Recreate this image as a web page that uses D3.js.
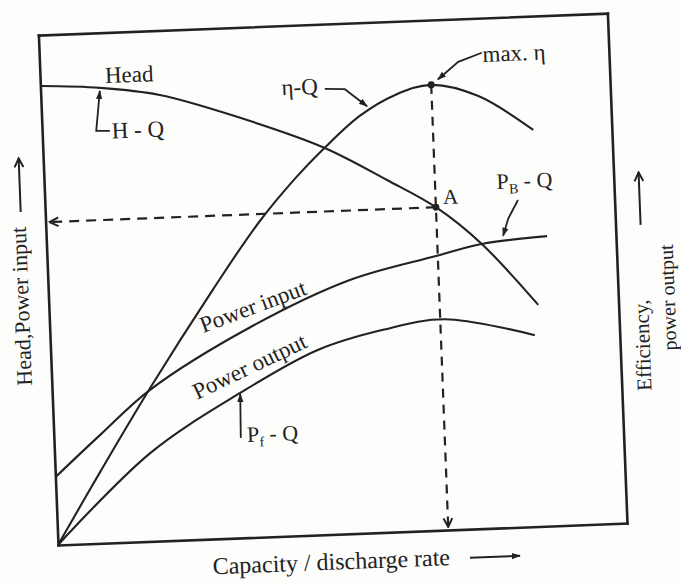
<!DOCTYPE html>
<html>
<head>
<meta charset="utf-8">
<script src="https://cdn.jsdelivr.net/npm/d3@7"></script>
<style>
  body { margin: 0; background: #fdfdfb; }
  svg { display: block; }
  text { font-family: "Liberation Serif", "DejaVu Serif", serif; fill: #222; }
</style>
</head>
<body>
<svg id="chart" width="681" height="583"></svg>
<script>
// ---- data (arbitrary units, 0..100 on both axes) ----
const headQ   = [0, 10.45, 20.9, 34.3, 49.2, 60.2, 68.6, 76.4, 85.9];
const headVal = [90.0, 89.2, 87.35, 82.5, 75.9, 69.0, 63.3, 55.75, 43.4];

const etaQ    = [0, 7.9, 17.2, 29.0, 37.3, 44.1, 49.2, 55.9, 62.2, 68.6, 76.7, 86.2];
const etaVal  = [0, 14.0, 30.0, 49.0, 61.5, 70.0, 75.5, 81.8, 85.6, 87.3, 84.8, 77.7];

const pinQ    = [0, 8.1, 17.2, 35.2, 53.0, 68.3, 76.4, 87.9];
const pinVal  = [13.3, 21.2, 29.7, 41.2, 49.7, 53.75, 55.75, 56.8];

const poutQ   = [0, 16.8, 33.0, 46.8, 58.5, 69.4, 85.1];
const poutVal = [0, 17.3, 28.4, 36.2, 39.7, 41.3, 37.5];

const bestQ = 68.6;      // discharge at max efficiency
const bestHead = 63.3;   // head at point A
const maxEta = 87.3;     // peak of eta-Q

const xTitle = "Capacity / discharge rate";
const yTitle = "Head,Power input";
const y2Title1 = "Efficiency,";
const y2Title2 = "power output";

// ---- drawing ----
const svg = d3.select("#chart");
const W = 569.4, H = 510.3, tilt = -2.2;
const x = d3.scaleLinear().domain([0, 100]).range([0, W]);
const y = d3.scaleLinear().domain([0, 100]).range([H, 0]);
const ink = "#222";

const defs = svg.append("defs");
defs.append("marker").attr("id", "tri")
  .attr("viewBox", "0 0 10 10").attr("refX", 9).attr("refY", 5)
  .attr("markerWidth", 9).attr("markerHeight", 9)
  .attr("markerUnits", "userSpaceOnUse").attr("orient", "auto")
  .append("path").attr("d", "M0,1.5L10,5L0,8.5Z").attr("fill", ink);
defs.append("marker").attr("id", "chev")
  .attr("viewBox", "0 0 10 10").attr("refX", 9).attr("refY", 5)
  .attr("markerWidth", 11).attr("markerHeight", 11)
  .attr("markerUnits", "userSpaceOnUse").attr("orient", "auto")
  .append("path").attr("d", "M1,1L9,5L1,9").attr("fill", "none")
  .attr("stroke", ink).attr("stroke-width", 1.8);

const g = svg.append("g")
  .attr("transform", `translate(58,545) rotate(${tilt}) translate(0,${-H})`);

// frame via axes without ticks
g.append("g").attr("transform", `translate(0,${H})`).call(d3.axisBottom(x).tickValues([]).tickSizeOuter(0));
g.append("g").call(d3.axisLeft(y).tickValues([]).tickSizeOuter(0));
g.append("g").call(d3.axisTop(x).tickValues([]).tickSizeOuter(0));
g.append("g").attr("transform", `translate(${W},0)`).call(d3.axisRight(y).tickValues([]).tickSizeOuter(0));
g.selectAll(".domain").attr("stroke", ink).attr("stroke-width", 2.6).attr("stroke-linecap", "square");

const line = d3.line().x(d => x(d[0])).y(d => y(d[1])).curve(d3.curveCatmullRom.alpha(0.5));
const pairs = (qs, vs) => qs.map((q, i) => [q, vs[i]]);

[[headQ, headVal], [etaQ, etaVal], [pinQ, pinVal], [poutQ, poutVal]].forEach(([q, v]) => {
  g.append("path").attr("d", line(pairs(q, v)))
    .attr("fill", "none").attr("stroke", ink).attr("stroke-width", 2.1);
});

// dashed guide lines
g.append("line")
  .attr("x1", x(bestQ)).attr("y1", y(maxEta)).attr("x2", x(bestQ)).attr("y2", y(0) - 3)
  .attr("stroke", ink).attr("stroke-width", 2.2).attr("stroke-dasharray", "9,7")
  .attr("marker-end", "url(#chev)");
g.append("line")
  .attr("x1", x(bestQ)).attr("y1", y(bestHead)).attr("x2", x(0) + 4).attr("y2", y(bestHead))
  .attr("stroke", ink).attr("stroke-width", 2.2).attr("stroke-dasharray", "10,7")
  .attr("marker-end", "url(#chev)");

g.append("circle").attr("cx", x(bestQ)).attr("cy", y(bestHead)).attr("r", 3.5).attr("fill", ink);
g.append("circle").attr("cx", x(bestQ)).attr("cy", y(maxEta)).attr("r", 3.5).attr("fill", ink);

// annotation arrows
function pathArrow(pts) {
  g.append("path").attr("d", d3.line().x(d => x(d[0])).y(d => y(d[1]))(pts))
    .attr("fill", "none").attr("stroke", ink).attr("stroke-width", 1.8)
    .attr("marker-end", "url(#tri)");
}
pathArrow([[11.9, 80.7], [9.5, 80.8], [10.4, 88.6]]);           // H - Q
pathArrow([[49.9, 87.3], [53.4, 87.1], [57.2, 83.6]]);          // eta - Q
pathArrow([[77.7, 93.2], [73.5, 91.6], [69.8, 88.3]]);          // max eta
pathArrow([[83.05, 64.1], [81.2, 60.5], [80.2, 57.2]]);         // P_B - Q
pathArrow([[32.8, 19.6], [33.0, 28.2]]);                        // P_f - Q

function label(txt, q, v, size, rot) {
  const t = g.append("text").attr("font-size", size)
    .attr("transform", `translate(${x(q)},${y(v)})` + (rot ? ` rotate(${rot})` : ""));
  t.text(txt);
  return t;
}
label("Head", 11.4, 90.1, 23);
label("H - Q", 12.2, 79.2, 23);
label("η-Q", 42.3, 86.4, 23);
label("max. η", 77.8, 91.4, 23);
label("A", 69.9, 63.9, 21);

const pb = g.append("text").attr("font-size", 22)
  .attr("transform", `translate(${x(79.4)},${y(66.4)})`);
pb.append("tspan").text("P");
pb.append("tspan").attr("font-size", 14).attr("dy", 5).text("B");
pb.append("tspan").attr("dy", -5).text(" - Q");

const pf = g.append("text").attr("font-size", 22)
  .attr("transform", `translate(${x(33.9)},${y(18.75)})`);
pf.append("tspan").text("P");
pf.append("tspan").attr("font-size", 14).attr("dy", 5).text("f");
pf.append("tspan").attr("dy", -5).text(" - Q");

label("Power input", 26.9, 40.4, 23, -18.3);
label("Power output", 25.4, 27.4, 23, -23.2);

// axis titles
label(xTitle, 27.0, -6.9, 24);
g.append("line").attr("x1", x(72.2)).attr("y1", y(-5.6)).attr("x2", x(81.0)).attr("y2", y(-5.6))
  .attr("stroke", ink).attr("stroke-width", 2).attr("marker-end", "url(#tri)");

label(yTitle, -3.5, 47.0, 22, -90).attr("text-anchor", "middle");
g.append("line").attr("x1", x(-4.3)).attr("y1", y(65.5)).attr("x2", x(-4.3)).attr("y2", y(76))
  .attr("stroke", ink).attr("stroke-width", 2).attr("marker-end", "url(#chev)");

label(y2Title1, 105.2, 34.7, 21, -90).attr("text-anchor", "middle");
label(y2Title2, 109.9, 43.9, 20, -90).attr("text-anchor", "middle");
g.append("line").attr("x1", x(104.4)).attr("y1", y(58.3)).attr("x2", x(104.4)).attr("y2", y(68.6))
  .attr("stroke", ink).attr("stroke-width", 2).attr("marker-end", "url(#chev)");
</script>
</body>
</html>
